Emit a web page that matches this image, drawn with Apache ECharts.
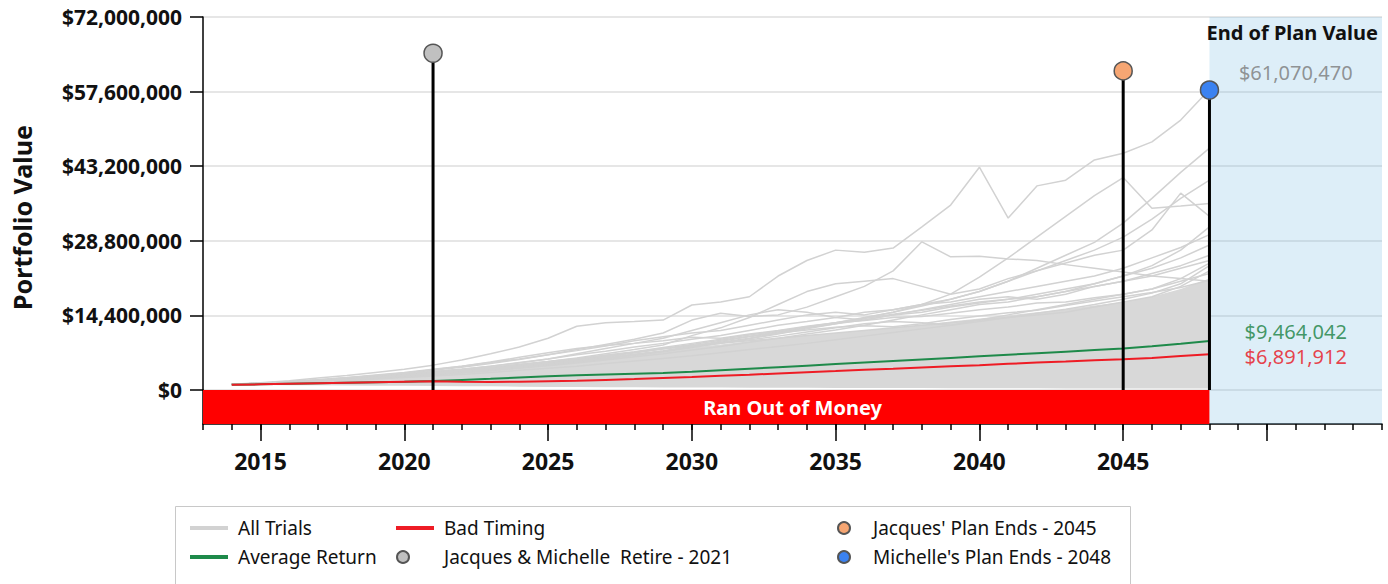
<!DOCTYPE html>
<html>
<head>
<meta charset="utf-8">
<title>Portfolio Value</title>
<script src="https://cdn.jsdelivr.net/npm/echarts@6/dist/echarts.min.js"></script>
<style>
  html, body { margin: 0; padding: 0; background: #fff; }
  #chart { width: 1388px; height: 584px; }
</style>
</head>
<body>
<div id="chart"></div>
<script>
// values are in $ millions
const years = [2014, 2015, 2016, 2017, 2018, 2019, 2020, 2021, 2022, 2023, 2024, 2025,
  2026, 2027, 2028, 2029, 2030, 2031, 2032, 2033, 2034, 2035, 2036, 2037, 2038, 2039,
  2040, 2041, 2042, 2043, 2044, 2045, 2046, 2047, 2048]

const averageReturn = [1.0, 1.1, 1.2, 1.3, 1.4, 1.5, 1.6, 1.75, 1.95, 2.15, 2.4, 2.65, 2.85,
  3.0, 3.15, 3.3, 3.5, 3.8, 4.1, 4.4, 4.7, 5.0, 5.3, 5.6, 5.9, 6.2, 6.5, 6.8, 7.1, 7.4, 7.7,
  8.0, 8.45, 8.95, 9.46]
const badTiming = [1.0, 1.1, 1.2, 1.3, 1.4, 1.5, 1.6, 1.7, 1.6, 1.55, 1.6, 1.7, 1.8, 1.95,
  2.1, 2.3, 2.5, 2.75, 2.95, 3.2, 3.45, 3.65, 3.9, 4.1, 4.35, 4.6, 4.8, 5.05, 5.3, 5.5, 5.75,
  5.95, 6.2, 6.55, 6.89]

// dense part of the trial fan (lower and upper edge)
const bandLow = [1.0, 0.95, 0.9, 0.9, 0.85, 0.8, 0.8, 0.75, 0.7, 0.7, 0.65, 0.6, 0.6, 0.55,
  0.55, 0.5, 0.5, 0.5, 0.45, 0.45, 0.45, 0.4, 0.4, 0.4, 0.4, 0.35, 0.35, 0.35, 0.35, 0.3,
  0.3, 0.3, 0.3, 0.3, 0.3]
const bandHigh = [1.2, 1.5, 1.8, 2.1, 2.5, 2.9, 3.3, 3.7, 4.1, 4.5, 5.0, 5.5, 6.0, 6.5, 7.0,
  7.6, 8.2, 8.8, 9.4, 10.0, 10.5, 11.0, 11.5, 12.0, 12.6, 13.2, 13.8, 14.4, 15.0, 15.6, 16.3,
  17.0, 18.0, 19.5, 21.5]

// individual trials above the dense part
const trialA = [1.1, 1.4, 1.8, 2.3, 2.8, 3.4, 4.0, 4.8, 5.8, 7.0, 8.3, 10.0, 12.3, 13.0, 13.2,
  13.5, 16.4, 17.0, 18.0, 22.0, 25.0, 27.0, 26.6, 27.4, 31.5, 35.7, 43.0, 33.2, 39.4, 40.5,
  44.4, 45.7, 47.9, 52.1, 58.0]
const trialB = [1.1, 1.3, 1.6, 1.9, 2.3, 2.7, 3.2, 3.8, 4.4, 5.1, 5.9, 6.8, 7.8, 8.8, 9.8,
  11.0, 13.5, 14.8, 14.2, 14.5, 16.0, 18.0, 20.0, 23.0, 28.6, 25.7, 25.8, 25.3, 25.0, 24.2,
  23.5, 22.8, 22.0, 21.5, 21.0]
const trialC = [1.1, 1.3, 1.5, 1.8, 2.1, 2.4, 2.8, 3.2, 3.6, 4.1, 4.6, 5.2, 5.8, 6.5, 7.2,
  8.0, 8.8, 9.6, 10.4, 11.2, 12.0, 13.0, 14.0, 15.0, 16.5, 18.5, 21.8, 25.5, 29.5, 33.5,
  37.5, 41.0, 35.1, 35.5, 36.0]
const trialD = [1.1, 1.3, 1.5, 1.7, 2.0, 2.3, 2.6, 3.0, 3.4, 3.8, 4.3, 4.8, 5.4, 6.0, 6.7,
  7.4, 8.2, 9.0, 9.9, 10.8, 11.8, 12.8, 13.9, 15.0, 16.2, 17.5, 19.0, 21.0, 23.5, 26.0, 28.5,
  32.2, 37.0, 42.0, 46.7]
const trialE = [1.1, 1.3, 1.6, 1.9, 2.2, 2.6, 3.0, 3.5, 4.0, 4.6, 5.3, 6.0, 6.8, 7.5, 8.3,
  9.0, 9.8, 10.5, 11.5, 12.5, 13.2, 14.0, 15.0, 15.5, 16.5, 17.5, 19.0, 21.0, 23.0, 25.0,
  27.0, 29.5, 33.0, 37.0, 40.5]
const trialF = [1.1, 1.3, 1.5, 1.8, 2.1, 2.5, 2.9, 3.3, 3.8, 4.3, 4.9, 5.5, 6.2, 7.0, 7.8,
  8.7, 10.5, 12.0, 14.0, 16.5, 19.0, 20.5, 21.0, 21.5, 20.0, 18.5, 19.5, 21.5, 23.0, 24.5,
  26.0, 27.0, 30.9, 38.0, 33.5]
const trialG = [1.1, 1.3, 1.6, 2.0, 2.4, 2.9, 3.4, 4.0, 4.6, 5.3, 6.0, 6.8, 7.6, 8.5, 9.5,
  10.3, 11.0, 11.5, 12.5, 13.5, 14.5, 15.0, 14.5, 15.5, 16.5, 17.0, 18.0, 19.0, 20.0, 21.0,
  22.0, 23.5, 25.5, 27.5, 30.0]
const trialH = [1.1, 1.2, 1.4, 1.7, 2.0, 2.3, 2.7, 3.1, 3.5, 4.0, 4.5, 5.0, 5.6, 6.2, 6.9,
  7.6, 8.4, 9.2, 10.0, 11.0, 12.0, 12.8, 13.5, 14.5, 15.0, 16.0, 16.8, 17.5, 18.5, 19.5,
  20.5, 22.0, 23.5, 25.5, 28.0]
const trialI = [1.1, 1.3, 1.5, 1.8, 2.2, 2.6, 3.0, 3.5, 4.0, 4.6, 5.2, 6.0, 7.0, 8.0, 9.0,
  10.0, 11.5, 13.0, 14.5, 15.5, 15.0, 14.0, 13.5, 14.5, 15.5, 16.5, 17.5, 18.0, 17.5, 18.5,
  20.0, 21.0, 22.5, 24.0, 26.0]
const trialJ = [1.1, 1.2, 1.4, 1.6, 1.9, 2.2, 2.5, 2.9, 3.3, 3.7, 4.2, 4.7, 5.2, 5.8, 6.4,
  7.0, 7.7, 8.4, 9.2, 10.0, 10.8, 11.6, 12.5, 13.5, 14.5, 15.5, 16.5, 17.0, 18.0, 19.0, 20.0,
  21.0, 22.0, 23.5, 25.0]
const trialK = [1.1, 1.3, 1.5, 1.7, 2.0, 2.3, 2.7, 3.1, 3.5, 3.9, 4.4, 4.9, 5.5, 6.1, 6.8,
  7.5, 8.3, 9.0, 9.5, 10.0, 10.5, 11.0, 11.5, 12.0, 12.5, 13.0, 13.5, 14.0, 14.5, 15.0,
  16.0, 17.0, 18.0, 20.0, 23.0]
const trialL = [1.1, 1.3, 1.6, 1.9, 2.2, 2.5, 2.9, 3.3, 3.8, 4.3, 4.9, 5.5, 6.1, 6.7, 7.3,
  8.0, 8.6, 9.1, 9.7, 10.4, 11.2, 12.0, 12.8, 13.2, 13.0, 12.5, 13.5, 14.5, 15.5, 16.5,
  17.5, 18.5, 19.5, 21.0, 22.5]
const trialM = [1.1, 1.2, 1.4, 1.6, 1.8, 2.1, 2.4, 2.7, 3.0, 3.4, 3.8, 4.2, 4.6, 5.1, 5.6,
  6.1, 6.6, 7.2, 7.8, 8.4, 9.0, 9.7, 10.4, 11.1, 11.8, 12.5, 13.2, 14.0, 14.8, 15.6, 16.5,
  17.5, 18.7, 20.5, 24.0]
const trialN = [1.1, 1.3, 1.5, 1.8, 2.1, 2.4, 2.8, 3.2, 3.7, 4.2, 4.8, 5.4, 6.0, 6.7, 7.4,
  8.2, 9.0, 9.8, 10.6, 11.4, 12.2, 13.0, 13.8, 14.6, 15.4, 16.2, 17.0, 17.5, 18.0, 19.0,
  20.5, 22.0, 24.0, 27.0, 31.5]
const trialO = [1.1, 1.3, 1.6, 1.9, 2.3, 2.8, 3.3, 3.9, 4.6, 5.4, 6.3, 7.2, 8.0, 8.6, 9.0,
  9.5, 10.2, 10.0, 10.8, 11.5, 12.3, 13.0, 13.4, 14.0, 14.2, 14.8, 15.5, 16.0, 16.8, 17.0,
  17.8, 18.5, 19.5, 21.5, 24.5]
const trialP = [1.1, 1.2, 1.5, 1.7, 2.0, 2.4, 2.8, 3.2, 3.7, 4.1, 4.6, 5.1, 5.7, 6.4, 7.2,
  7.9, 8.5, 9.4, 10.3, 11.0, 11.6, 12.1, 12.4, 12.2, 12.8, 13.6, 14.3, 14.9, 15.4, 16.3,
  17.2, 18.0, 18.8, 19.8, 21.2]
const trials = [trialA, trialB, trialC, trialD, trialE, trialF, trialG, trialH, trialI,
  trialJ, trialK, trialL, trialM, trialN, trialO, trialP]

// retirement / plan-end events
const eventNames = ['Jacques & Michelle  Retire - 2021', "Jacques' Plan Ends - 2045",
  "Michelle's Plan Ends - 2048"]
const eventYears = [2021, 2045, 2048]
const eventValues = [65.0, 61.6, 57.9]

// text values shown in the end-of-plan panel
const endTexts = ['$61,070,470', '$9,464,042', '$6,891,912']
const endYears = [2051, 2051, 2051]
const endValues = [61.2, 11.3, 6.5]

const yTickStep = 14400000
const xMajorTicks = [2015, 2020, 2025, 2030, 2035, 2040, 2045, 2050]
const xTickLabels = [2015, 2020, 2025, 2030, 2035, 2040, 2045]

const M = 1000000
const FONT = 'Noto Sans'
const pts = arr => years.map((y, i) => [y, arr[i] * M])
const money = v => '$' + String(Math.round(v)).replace(/\B(?=(\d{3})+(?!\d))/g, ',')

const eventColors = ['#c0c0c0', '#f6a673', '#3b82f0']
const endColors = ['#7a7a7a', '#17803f', '#e8121c']
const endBlue = 'rgba(119, 187, 227, 0.25)'

const series = []

// dense fan of trials, drawn as one filled band
series.push({
  name: 'band', type: 'custom', silent: true, z: 1,
  data: years.map((y, i) => [y, bandLow[i] * M, bandHigh[i] * M]),
  encode: { x: 0, y: [1, 2] },
  renderItem: (params, api) => {
    if (params.dataIndex !== 0) return null
    const top = years.map((y, i) => api.coord([y, bandHigh[i] * M]))
    const bottom = years.map((y, i) => api.coord([y, bandLow[i] * M])).reverse()
    return {
      type: 'polygon',
      shape: { points: top.concat(bottom) },
      style: { fill: '#d8d8d8' }
    }
  }
})

// light blue end-of-plan panel
series.push({
  name: 'endPanel', type: 'line', data: [[2048, 0]], symbol: 'none', silent: true,
  lineStyle: { opacity: 0 }, z: 1,
  markArea: {
    silent: true,
    data: [[
      {
        xAxis: 2048, name: 'End of Plan Value', itemStyle: { color: endBlue },
        label: {
          show: true, position: 'insideTopLeft', distance: 0, offset: [-3, 5],
          color: '#111', fontFamily: FONT, fontSize: 20, fontWeight: 'bold'
        }
      },
      { xAxis: 2054 }
    ]]
  }
})

trials.forEach(t => {
  series.push({
    name: 'All Trials', type: 'line', data: pts(t), symbol: 'none', silent: true,
    itemStyle: { color: '#d2d2d2' },
    lineStyle: { color: '#d2d2d2', width: 1.5 }, z: 2
  })
})

series.push({
  name: 'Average Return', type: 'line', data: pts(averageReturn), symbol: 'none',
  itemStyle: { color: '#1e8a4a' }, lineStyle: { color: '#1e8a4a', width: 2 }, z: 3
})
series.push({
  name: 'Bad Timing', type: 'line', data: pts(badTiming), symbol: 'none',
  itemStyle: { color: '#ee1c25' }, lineStyle: { color: '#ee1c25', width: 2 }, z: 3
})

eventNames.forEach((n, i) => {
  series.push({
    name: n, type: 'line',
    data: [
      { value: [eventYears[i], 0], symbol: 'none' },
      { value: [eventYears[i], eventValues[i] * M] }
    ],
    symbol: 'circle', symbolSize: 18, showSymbol: true,
    lineStyle: { color: '#000', width: 3 },
    itemStyle: { color: eventColors[i], borderColor: '#555', borderWidth: 1.5 },
    z: 5
  })
})

series.push({
  name: 'endValues', type: 'scatter', symbolSize: 1, silent: true,
  itemStyle: { color: 'transparent' },
  data: endTexts.map((t, i) => ({
    value: [endYears[i], endValues[i] * M],
    label: { formatter: t, color: endColors[i] }
  })),
  label: { show: true, position: 'inside', fontFamily: FONT, fontSize: 20, lineHeight: 18 },
  z: 6
})

// strip under the plot: years the money runs out
series.push({
  name: 'ranOut', type: 'line', xAxisIndex: 1, yAxisIndex: 1,
  data: [[2013, 0]], symbol: 'none', silent: true, lineStyle: { opacity: 0 },
  markArea: {
    silent: true,
    data: [
      [{ xAxis: 2013, itemStyle: { color: '#ff0000' }, label: { show: false } }, { xAxis: 2048 }],
      [{ xAxis: 2048, itemStyle: { color: endBlue }, label: { show: false } }, { xAxis: 2054 }],
      [{
        xAxis: 2013, name: 'Ran Out of Money', itemStyle: { color: 'rgba(0,0,0,0)' },
        label: {
          show: true, position: 'inside', color: '#fff',
          fontFamily: FONT, fontSize: 20, fontWeight: 'bold'
        }
      }, { xAxis: 2054 }]
    ]
  }
})

const legendText = { fontFamily: FONT, fontSize: 19, color: '#111', lineHeight: 20 }

const option = {
  animation: false,
  backgroundColor: '#fff',
  grid: [
    { left: 203, right: 6, top: 17, height: 373 },
    { left: 203, right: 6, top: 390, height: 34 }
  ],
  xAxis: [
    { type: 'value', gridIndex: 0, min: 2013, max: 2054, show: false },
    {
      type: 'value', gridIndex: 1, position: 'bottom', min: 2013, max: 2054, interval: 1,
      axisLine: { show: true, lineStyle: { color: '#000', width: 1.5 } },
      axisTick: { show: true, length: 6, lineStyle: { color: '#000', width: 1.5 } },
      axisLabel: { show: false }, splitLine: { show: false }
    },
    {
      type: 'value', gridIndex: 1, position: 'bottom', min: 2013, max: 2054,
      axisLine: { show: false },
      axisTick: {
        show: true, length: 17, customValues: xMajorTicks,
        lineStyle: { color: '#000', width: 1.5 }
      },
      axisLabel: {
        show: true, customValues: xTickLabels, margin: 25, formatter: v => String(v),
        fontFamily: FONT, fontSize: 23, fontWeight: 'bold', color: '#111'
      },
      splitLine: { show: false }
    }
  ],
  yAxis: [
    {
      type: 'value', gridIndex: 0, min: 0, max: 72000000, interval: yTickStep,
      axisLine: { show: true, lineStyle: { color: '#000', width: 1.5 } },
      axisTick: { show: true, length: 13, lineStyle: { color: '#000', width: 1.5 } },
      axisLabel: {
        margin: 21, formatter: money,
        fontFamily: FONT, fontSize: 21, fontWeight: 'bold', color: '#111'
      },
      splitLine: { show: true, lineStyle: { color: '#dedede', width: 1.5 } },
      name: 'Portfolio Value', nameLocation: 'middle', nameRotate: 90, nameGap: 169,
      nameTextStyle: {
        fontFamily: FONT, fontSize: 25, fontWeight: 'bold', color: '#111',
        padding: [0, 28, 0, 0]
      }
    },
    {
      type: 'value', gridIndex: 1, min: 0, max: 1,
      axisLine: { show: true, lineStyle: { color: '#000', width: 1.5 } },
      axisTick: { show: false }, axisLabel: { show: false }, splitLine: { show: false }
    }
  ],
  legend: [
    {
      orient: 'vertical', left: 190, top: 518, padding: 0, itemGap: 9,
      itemWidth: 38, itemHeight: 4,
      textStyle: Object.assign({ padding: [0, 0, 0, 5] }, legendText),
      data: [{ name: 'All Trials', icon: 'rect' }, { name: 'Average Return', icon: 'rect' }]
    },
    {
      orient: 'vertical', left: 396, top: 518, padding: 0,
      itemWidth: 38, itemHeight: 4,
      textStyle: Object.assign({ padding: [0, 0, 0, 5] }, legendText),
      data: [{ name: 'Bad Timing', icon: 'rect' }]
    },
    {
      orient: 'vertical', left: 396, top: 547, padding: 0,
      itemWidth: 12, itemHeight: 12,
      textStyle: Object.assign({ padding: [0, 0, 0, 30] }, legendText),
      data: [{ name: eventNames[0], icon: 'circle' }]
    },
    {
      orient: 'vertical', left: 837, top: 518, padding: 0, itemGap: 9,
      itemWidth: 12, itemHeight: 12,
      textStyle: Object.assign({ padding: [0, 0, 0, 18] }, legendText),
      data: [{ name: eventNames[1], icon: 'circle' }, { name: eventNames[2], icon: 'circle' }]
    }
  ],
  graphic: [{
    type: 'rect', left: 173, top: 504, silent: true,
    shape: { width: 955, height: 79 },
    style: { fill: 'none', stroke: '#c8c8c8', lineWidth: 1 }
  }],
  series: series
}

const chart = echarts.init(document.getElementById('chart'), null, { renderer: 'svg' })
chart.setOption(option)
</script>
</body>
</html>
